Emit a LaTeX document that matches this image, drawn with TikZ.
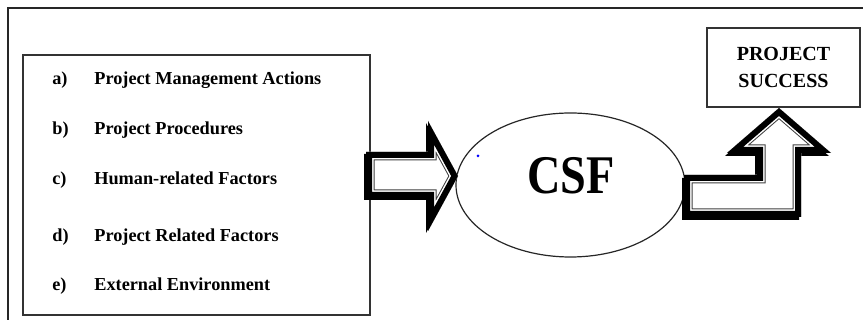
\documentclass[tikz,border=0pt]{standalone}
\usepackage{fontspec}
\setmainfont{Liberation Serif}
\usetikzlibrary{shapes.geometric}
\newlength{\px}
\setlength{\px}{0.02cm}

\begin{document}
\begin{tikzpicture}[x=0.02cm,y=-0.02cm]
\tikzstyle{every node}+=[inner sep=0pt]
\tikzstyle{item}=[anchor=base west, font=\bfseries\fontsize{10.4}{12}\selectfont]
\tikzstyle{boxline}=[draw=black!80, line width=1.5\px]
\useasboundingbox (0,0) rectangle (863,320);
\draw [black!85, line width=1.6\px] (863,8) -- (8,8) -- (8,320);
\node [boxline, minimum width=347\px, minimum height=260\px] (list) at (196.5,185) {};
\node [item] (la) at (52,85) {a)};
\node [item] (ta) at (94,85) {Project Management Actions};
\node [item] (lb) at (52,135) {b)};
\node [item] (tb) at (94,135) {Project Procedures};
\node [item] (lc) at (52,185) {c)};
\node [item] (tc) at (94,185) {Human-related Factors};
\node [item] (ld) at (52,242) {d)};
\node [item] (td) at (94,242) {Project Related Factors};
\node [item] (le) at (52,291) {e)};
\node [item] (te) at (94,291) {External Environment};
\node [ellipse, draw=black!85, line width=1.2\px, minimum width=229\px, minimum height=144\px] (csf) at (570.5,185) {};
\node [font=\bfseries\fontsize{31}{31}\selectfont, xscale=0.85] (csflabel) at (571,176) {CSF};
\fill [blue] (478,156) circle (1.5);
\node [boxline, minimum width=153\px, minimum height=79\px, align=center,
  font=\bfseries\fontsize{11.4}{15.3}\selectfont] (success) at (783.5,67.5) {PROJECT\\SUCCESS};
% arrow into CSF
\def\arrowin{(366,152) -- (428,152) -- (428,121) -- (458,176) -- (428,231) -- (428,198) -- (366,198) -- cycle}
\fill [black, shift={(-2,2)}] \arrowin;
\begin{scope}
\clip \arrowin;
\fill [white] \arrowin;
\draw [black!75, line width=17\px, line join=miter] \arrowin;
\draw [white, line width=15\px, line join=miter] \arrowin;
\draw [black, line width=12\px, line join=miter] \arrowin;
\end{scope}
% arrow up to success
\def\arrowup{(684,217) -- (684,175) -- (757,175) -- (757,153) -- (727,153) -- (779,108) -- (831,153) -- (801,153) -- (801,217) -- cycle}
\fill [black, shift={(-2,3)}] \arrowup;
\begin{scope}
\clip \arrowup;
\fill [white] \arrowup;
\draw [black!75, line width=17\px, line join=miter] \arrowup;
\draw [white, line width=15\px, line join=miter] \arrowup;
\draw [black, line width=12\px, line join=miter] \arrowup;
\end{scope}
\end{tikzpicture}
\end{document}
